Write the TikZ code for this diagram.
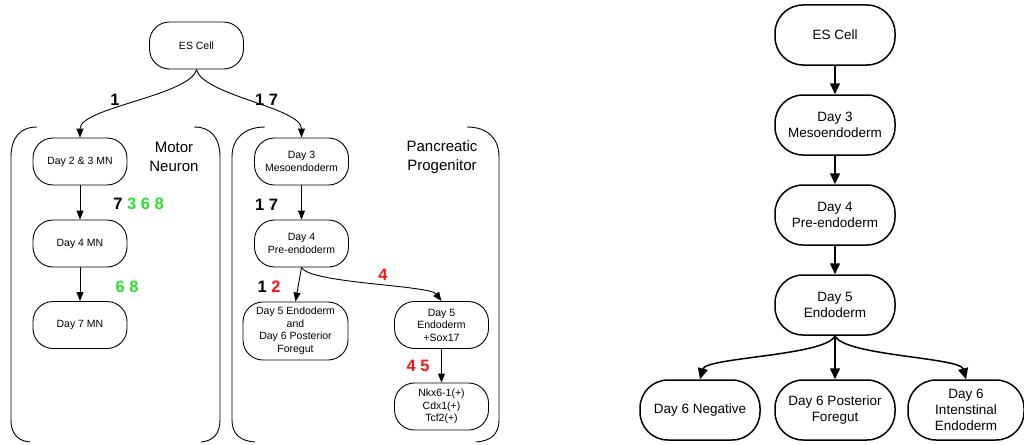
\documentclass[tikz,border=0pt]{standalone}
\usepackage{fontspec}
\setmainfont{Liberation Sans}
\usetikzlibrary{arrows.meta}
\definecolor{lgreen}{RGB}{40,225,40}
\definecolor{lred}{RGB}{250,20,20}
\begin{document}
\begin{tikzpicture}[x=1pt,y=-1pt,
  lbox/.style={draw,line width=0.9pt,rounded corners=20pt,minimum width=94pt,minimum height=47pt,align=center,inner sep=1pt,font=\fontsize{10.5}{12.5}\selectfont},
  rbox/.style={draw,line width=1.5pt,rounded corners=28pt,minimum width=120pt,minimum height=60pt,align=center,inner sep=1pt,font=\fontsize{13.5}{16}\selectfont},
  larr/.style={line width=0.9pt,-{Triangle[length=9pt,width=7pt]}},
  rarr/.style={line width=1.5pt,-{Triangle[length=11pt,width=10pt]}},
  lab/.style={font=\fontsize{16.5}{18}\selectfont\bfseries,inner sep=0pt},
  grp/.style={font=\fontsize{15}{19}\selectfont,align=center,inner sep=0pt},
  brk/.style={line width=0.9pt}]
\useasboundingbox (0,0) rectangle (1024,444);
% ---------- left diagram ----------
\node[lbox] (es) at (196.5,45.5) {ES Cell};
\node[lbox] (mn23) at (80,161.5) {Day 2 \& 3 MN};
\node[lbox] (mn4) at (80,243.5) {Day 4 MN};
\node[lbox] (mn7) at (80,325) {Day 7 MN};
\node[lbox] (meso) at (301.5,161.5) {Day 3\\Mesoendoderm};
\node[lbox] (pre) at (301.5,243.5) {Day 4\\Pre-endoderm};
\node[lbox,minimum width=105pt,minimum height=58pt] (endo) at (295.5,331) {Day 5 Endoderm\\and\\Day 6 Posterior\\Foregut};
\node[lbox] (sox) at (441.5,325) {Day 5\\Endoderm\\+Sox17};
\node[lbox] (nkx) at (441.5,406.5) {Nkx6-1(+)\\Cdx1(+)\\Tcf2(+)};
% brackets
\draw[brk] (37,127) .. controls (20,127) and (11,138) .. (11,157) -- (11,420) .. controls (11,434) and (18,441) .. (30,442);
\draw[brk] (194,127) .. controls (211,127) and (220,138) .. (220,157) -- (220,420) .. controls (220,434) and (213,441) .. (201,442);
\draw[brk] (265,127) .. controls (245,127) and (232,138) .. (232,157) -- (232,420) .. controls (232,434) and (240,441) .. (255,442);
\draw[brk] (467,127) .. controls (487,127) and (499,138) .. (499,157) -- (499,420) .. controls (499,434) and (491,441) .. (476,442);
\node[grp] (mnlab) at (174,157) {Motor\\Neuron};
\node[grp] (pplab) at (442,157) {Pancreatic\\Progenitor};
% arrows
\draw[larr] (es.south) .. controls +(-6,26) and +(0,-30) .. (mn23.north);
\draw[larr] (es.south) .. controls +(6,26) and +(0,-30) .. (meso.north);
\draw[larr] (mn23) -- (mn4);
\draw[larr] (mn4) -- (mn7);
\draw[larr] (meso) -- (pre);
\draw[larr] (pre.south) -- (endo.north);
\draw[larr] (pre.south) .. controls +(8,16) and +(-12,-16) .. (sox.north);
\draw[larr] (sox) -- (nkx);
% labels
\node[lab] (l1) at (115,100) {1};
\node[lab] (l2) at (138.5,204) {7 \textcolor{lgreen}{3 6 8}};
\node[lab,text=lgreen] (l3) at (127,287) {6 8};
\node[lab] (l4) at (266.5,100) {1 7};
\node[lab] (l5) at (266.5,205) {1 7};
\node[lab] (l6) at (269,287) {1 \textcolor{lred}{2}};
\node[lab,text=lred] (l7) at (383,275) {4};
\node[lab,text=lred] (l8) at (418,366) {4 5};
% ---------- right diagram ----------
\node[rbox] (res) at (835,35) {ES Cell};
\node[rbox] (rd3) at (835,125) {Day 3\\Mesoendoderm};
\node[rbox] (rd4) at (835,215) {Day 4\\Pre-endoderm};
\node[rbox] (rd5) at (835,305) {Day 5\\Endoderm};
\node[rbox] (rneg) at (700,410) {Day 6 Negative};
\node[rbox] (rpf) at (835,410) {Day 6 Posterior\\Foregut};
\node[rbox,minimum width=116pt] (rint) at (966,410) {Day 6\\Intenstinal\\Endoderm};
\draw[rarr] (res) -- (rd3);
\draw[rarr] (rd3) -- (rd4);
\draw[rarr] (rd4) -- (rd5);
\draw[rarr] (rd5) -- (rpf);
\draw[rarr] (rd5.south) .. controls +(-8,20) and +(6,-22) .. (rneg.north);
\draw[rarr] (rd5.south) .. controls +(8,20) and +(-6,-22) .. (rint.north);
\end{tikzpicture}
\end{document}
